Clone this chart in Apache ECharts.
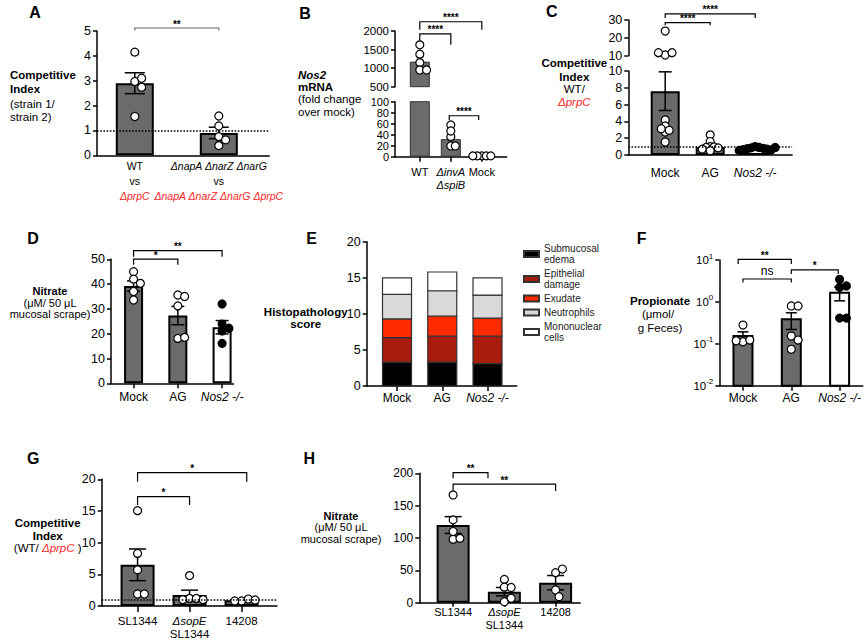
<!DOCTYPE html>
<html><head><meta charset="utf-8">
<script src="https://cdn.jsdelivr.net/npm/echarts@6/dist/echarts.min.js"></script>
<style>html,body{margin:0;padding:0;background:#fff}#c{width:867px;height:642px}</style>
</head><body><div id="c"></div>
<script>
// ================= DATA =================
// Panel A
const catA = [['WT', 'vs', 'ΔprpC'], ['ΔnapA ΔnarZ ΔnarG', 'vs', 'ΔnapA ΔnarZ ΔnarG ΔprpC']];
const meanA = [2.9, 0.9];
const semA = [0.42, 0.23];
const ptsA = [[4.15, 2.97, 3.1, 2.74, 1.56], [1.58, 1.18, 0.75, 0.62, 0.39]];
const sigA = [[0, 1, 5.12, 5.02, '**']];
// Panel B
const catB = [['WT'], ['ΔinvA', 'ΔspiB'], ['Mock']];
const meanB = [1175, 32, 1.5];
const ptsB = [[1627, 1376, 1149, 951, 951], [57.6, 36.4, 46.7, 19.5, 19.5], [1.5, 1.5, 1.5, 1.5, 1.5]];
const sigBUpper = [[0, 2, 2249, 2032, '****'], [0, 1, 1924, 1627, '****']];
const sigBLower = [[0.95, 1.9, 74.5, 66.7, '****']];
// Panel C
const catC = ['Mock', 'AG', 'Nos2 -/-'];
const meanC = [7.6, 0.95, 0.75];
const semC = [2.3, 0.22, 0.05];
const ptsC = [[23.8, 10.4, 11.7, 11.7, 4.17, 3.45, 2.74, 2.94, 3.13, 1.55],
              [2.4, 1.6, 1.0, 0.95, 0.9, 0.85, 0.5, 0.7],
              [1.0, 0.9, 0.85, 0.8, 0.75, 0.7, 0.65, 0.6, 0.55, 0.9]];
const sigC = [[0, 2, 33.4, 31.1, '****'], [0, 1, 28.5, 27.0, '****']];
// Panel D
const catD = ['Mock', 'AG', 'Nos2 -/-'];
const meanD = [39.2, 27.3, 22.6];
const semD = [2.1, 3.7, 2.7];
const ptsD = [[45.0, 42.0, 40.3, 37.0, 33.6], [35.6, 35.0, 31.2, 18.1, 18.5], [32.0, 23.9, 22.2, 21.1, 16.1]];
const sigD = [[0, 2, 53.5, 51.0, '**'], [0, 1, 50.1, 47.8, '*']];
// Panel E
const catE = ['Mock', 'AG', 'Nos2 -/-'];
const histoNames = ['Submucosal edema', 'Epithelial damage', 'Exudate', 'Neutrophils', 'Mononuclear cells'];
const histoE = [[3.3, 3.3, 3.1], [3.4, 3.6, 3.8], [2.6, 2.8, 2.5], [3.4, 3.5, 3.2], [2.3, 2.6, 2.4]];
// Panel F
const catF = ['Mock', 'AG', 'Nos2 -/-'];
const meanF = [0.153, 0.385, 1.66];
const semF = [0.04, 0.165, 0.6];
const ptsF = [[0.28, 0.112, 0.123, 0.118], [0.8, 0.8, 0.153, 0.123, 0.074], [3.46, 2.23, 2.4, 0.41, 0.41]];
const sigF = [[-0.1, 1, 10.4, 8.04, '**'], [0, 1, 3.52, 2.9, 'ns'], [1, 1.97, 5.8, 4.66, '*']];
// Panel G
const catG = [['SL1344'], ['ΔsopE', 'SL1344'], ['14208']];
const meanG = [6.5, 1.75, 0.9];
const semG = [2.5, 0.75, 0.07];
const ptsG = [[15.05, 8.3, 5.7, 1.9, 1.9], [4.8, 1.2, 1.2, 1.0, 1.0], [0.8, 1.1, 0.8, 0.95]];
const sigG = [[0, 2.1, 21.05, 19.6, '*'], [0, 1, 17.27, 15.95, '*']];
// Panel H
const catH = [['SL1344'], ['ΔsopE', 'SL1344'], ['14208']];
const meanH = [120, 17, 31];
const semH = [13, 6.5, 11];
const ptsH = [[166.5, 128, 98, 99.5, 110], [36, 24, 23.5, 1.5, 6.8], [46.4, 52, 19.6, 9.3]];
const sigH = [[0, 0.68, 200.9, 192.3, '**'], [0, 2, 183.2, 172.5, '**']];

// ================= STYLE / BUILD =================
const FF = '"Liberation Sans", Arial, Helvetica, sans-serif';
const RED = '#ff1f1f';
const GRAY = '#6b6b6b';
const SZ = 8;
const histoColors = ['#000000', '#a91b0d', '#ff2a00', '#d9d9d9', '#ffffff'];

const grids = [], xAxes = [], yAxes = [], series = [], graphic = [];
const scatterDefs = [];

function richFor(fs, lh) {
  return {
    n: {fontSize: fs, lineHeight: lh, fontFamily: FF, color: '#000'},
    i: {fontSize: fs, lineHeight: lh, fontFamily: FF, color: '#000', fontStyle: 'italic'},
    r: {fontSize: fs, lineHeight: lh, fontFamily: FF, color: RED, fontStyle: 'italic'}
  };
}
function fmtLine(s) {
  if (/prpC/.test(s)) return '{r|' + s + '}';
  if (/^Δ|^Nos2/.test(s)) return '{i|' + s + '}';
  return '{n|' + s + '}';
}

function yAxisBase(gi, p) {
  const ya = {
    gridIndex: gi, type: p.yType || 'value', min: p.yMin, max: p.yMax,
    axisLine: {show: true, onZero: false, lineStyle: {color: '#000', width: 1.5}},
    axisTick: {show: true, length: 4, lineStyle: {color: '#000', width: 1.5}},
    minorTick: {show: false},
    axisLabel: {color: '#000', fontSize: p.yFont || 12, fontFamily: FF, margin: 6, hideOverlap: false,
      showMinLabel: true, showMaxLabel: true, lineHeight: p.yLH || 12,
      formatter: p.yFmt || (v => String(v))},
    splitLine: {show: false}
  };
  if (p.yInt != null) ya.interval = p.yInt;
  if (p.yType === 'log') ya.logBase = 10;
  if (p.yRich) ya.axisLabel.rich = p.yRich;
  return ya;
}

function makePanel(p) {
  const gi = grids.push({left: p.left, top: p.top, width: p.width, height: p.height,
    containLabel: false, outerBoundsMode: 'none'}) - 1;
  const cats = p.cats || [];
  const idx = cats.map((_, i) => i);
  const xi = xAxes.push({
    gridIndex: gi, type: 'value', min: p.xMin, max: p.xMax, show: p.showX !== false,
    axisLine: {show: true, onZero: false, lineStyle: {color: '#000', width: 1.5}},
    axisTick: {show: !!p.xTick, customValues: idx, length: p.xTick || 5, lineStyle: {color: '#000', width: 1.5}},
    axisLabel: {show: cats.length > 0, customValues: idx, margin: p.xMargin, hideOverlap: false,
      showMinLabel: true, showMaxLabel: true,
      formatter: v => { const c = cats[Math.round(v)]; if (c == null) return ''; return (Array.isArray(c) ? c : [c]).map(fmtLine).join('\n'); },
      rich: richFor(p.xFont || 12, p.xLH || 14)},
    splitLine: {show: false}
  }) - 1;
  const ya = yAxisBase(gi, p);
  let yi;
  if (p.ySplit && p.yInt != null) {
    // dense tick labels: alternate labels between two coincident axes so none is dropped
    const tv = [];
    for (let v = p.yMin; v <= p.yMax + 1e-9; v += p.yInt) tv.push(v);
    ya.axisTick.customValues = tv;
    ya.axisLabel.customValues = tv.filter((_, k) => k % 2 === 0);
    yi = yAxes.push(ya) - 1;
    const yb = yAxisBase(gi, p);
    yb.position = 'left';
    yb.offset = 0;
    yb.axisLine = {show: false, onZero: false};
    yb.axisTick = {show: false};
    yb.axisLabel.customValues = tv.filter((_, k) => k % 2 === 1);
    yAxes.push(yb);
  } else {
    yi = yAxes.push(ya) - 1;
  }
  return {gi, xi, yi};
}

function addBars(P, means, w, fills, bw, bc) {
  series.push({type: 'bar', xAxisIndex: P.xi, yAxisIndex: P.yi, barWidth: w, z: 2, clip: true, silent: true,
    data: means.map((m, i) => ({value: [i, m], itemStyle: {color: (fills && fills[i]) || GRAY}})),
    itemStyle: {borderColor: bc || '#000', borderWidth: bw == null ? 2 : bw}});
}
function addLogBars(P, means, w, fills, floor) {
  series.push({type: 'custom', xAxisIndex: P.xi, yAxisIndex: P.yi, z: 2, silent: true,
    data: means.map((m, i) => [i, m]), encode: {x: 0, y: 1},
    renderItem(params, api) {
      const i = api.value(0), v = api.value(1);
      const top = api.coord([i, v]), base = api.coord([i, floor]);
      return {type: 'rect', shape: {x: top[0] - w / 2, y: top[1], width: w, height: base[1] - top[1]},
        style: {fill: fills[params.dataIndex] || GRAY, stroke: '#000', lineWidth: 2}};
    }});
}
function addErr(P, means, sems, cap) {
  series.push({type: 'custom', xAxisIndex: P.xi, yAxisIndex: P.yi, z: 3, silent: true,
    data: means.map((m, i) => [i, m - sems[i], m + sems[i]]), encode: {x: 0, y: [1, 2]},
    renderItem(params, api) {
      const x = api.value(0);
      const hi = api.coord([x, api.value(2)]), lo = api.coord([x, api.value(1)]);
      const st = {stroke: '#000', lineWidth: 1.5};
      return {type: 'group', children: [
        {type: 'line', shape: {x1: hi[0], y1: hi[1], x2: lo[0], y2: lo[1]}, style: st},
        {type: 'line', shape: {x1: hi[0] - cap / 2, y1: hi[1], x2: hi[0] + cap / 2, y2: hi[1]}, style: st},
        {type: 'line', shape: {x1: lo[0] - cap / 2, y1: lo[1], x2: lo[0] + cap / 2, y2: lo[1]}, style: st}
      ]};
    }});
}
function addBrackets(P, list, color) {
  series.push({type: 'custom', xAxisIndex: P.xi, yAxisIndex: P.yi, z: 4, silent: true, clip: false,
    data: list.map(b => [b[0], b[2], b[1], b[3]]), encode: {x: 0, y: 1},
    renderItem(params, api) {
      const b = list[params.dataIndex];
      const p1 = api.coord([b[0], b[2]]), p2 = api.coord([b[1], b[2]]), t = api.coord([b[0], b[3]]);
      const isNs = b[4] === 'ns';
      return {type: 'group', children: [
        {type: 'polyline', shape: {points: [[p1[0], t[1]], [p1[0], p1[1]], [p2[0], p2[1]], [p2[0], t[1]]]},
          style: {stroke: color || '#000', lineWidth: 1.2, fill: 'none'}},
        {type: 'text', x: (p1[0] + p2[0]) / 2, y: p1[1] - (isNs ? 8 : 4),
          style: {text: b[4], font: (isNs ? '12px ' : 'bold 10px ') + FF, fill: '#000', align: 'center', verticalAlign: 'middle'}}
      ]};
    }});
}
function addPts(P, groups, fills, filter, refLine, dodge) {
  const data = [];
  groups.forEach((vals, g) => vals.forEach(v => {
    if (!filter || filter(v)) data.push({value: [g, v], itemStyle: {color: fills[g]}});
  }));
  const s = {id: 'pts' + scatterDefs.length, type: 'scatter', xAxisIndex: P.xi, yAxisIndex: P.yi,
    symbol: 'circle', symbolSize: SZ, z: 5, silent: true, clip: false, data,
    itemStyle: {borderColor: '#000', borderWidth: 1.2, opacity: 1}};
  if (refLine != null) s.markLine = {silent: true, symbol: 'none', label: {show: false}, animation: false, z: 6,
    lineStyle: {color: '#000', type: 'dotted', width: 1.6}, emphasis: {disabled: true}, data: [{yAxis: refLine}]};
  series.push(s); scatterDefs.push({s, dodge: dodge || SZ * 0.85});
}
function txt(x, y, text, font, extra) {
  graphic.push({type: 'text', x, y, z: 10, silent: true,
    style: Object.assign({text, font: font || ('11.5px ' + FF), fill: '#000', align: 'center', verticalAlign: 'middle'}, extra || {})});
}

const W = '#ffffff', K = '#000000';

// ---- Panel A ----
const PA = makePanel({left: 97, top: 31, width: 172.2, height: 124.3, xMin: -0.45, xMax: 1.6, cats: catA,
  xTick: 0, xMargin: 3, xFont: 10.5, xLH: 15, yMin: 0, yMax: 5, yInt: 1, yFont: 12.5});
addBars(PA, meanA, 38);
addErr(PA, meanA, semA, 20);
addPts(PA, ptsA, [W, W], null, 1);
addBrackets(PA, sigA, '#666');

// ---- Panel B ----
const PBu = makePanel({left: 395, top: 31, width: 111.6, height: 55.7, xMin: -0.8, xMax: 2.8, showX: false,
  yMin: 500, yMax: 2000, yInt: 500, yFont: 11.5, yLH: 9, ySplit: true});
const PBl = makePanel({left: 395, top: 101.7, width: 111.6, height: 55, xMin: -0.8, xMax: 2.8, cats: catB,
  xTick: 5, xMargin: 9, xFont: 11, xLH: 13, yMin: 0, yMax: 100, yInt: 20, yFont: 11, yLH: 9, ySplit: true});
addBars(PBu, meanB, 20, null, 1, '#333');
addBars(PBl, meanB, 20, null, 1, '#333');
addPts(PBu, ptsB, [W, W, W], v => v >= 500);
addPts(PBl, ptsB, [W, W, W], v => v <= 100, null, 4.5);
addBrackets(PBu, sigBUpper);
addBrackets(PBl, sigBLower);

// ---- Panel C ----
const PCu = makePanel({left: 628.3, top: 20, width: 163.8, height: 35.7, xMin: -0.82, xMax: 2.82, showX: false,
  yMin: 10, yMax: 30, yInt: 10, yFont: 12.5, yLH: 10});
const PCl = makePanel({left: 628.3, top: 71, width: 163.8, height: 84, xMin: -0.82, xMax: 2.82, cats: catC,
  xTick: 0, xMargin: 11, xFont: 12, xLH: 14, yMin: 0, yMax: 10, yInt: 2, yFont: 12.5});
addBars(PCl, meanC, 29, [GRAY, GRAY, W]);
addErr(PCl, meanC, semC, 13);
addPts(PCu, ptsC, [W, W, K], v => v > 10);
addPts(PCl, ptsC, [W, W, K], v => v <= 10, 1, 4);
addBrackets(PCu, sigC);

// ---- Panel D ----
const PD = makePanel({left: 111, top: 259.3, width: 122.6, height: 124, xMin: -0.51, xMax: 2.26, cats: catD,
  xTick: 5, xMargin: 7, xFont: 12, xLH: 14, yMin: 0, yMax: 50, yInt: 10, yFont: 12.5});
addBars(PD, meanD, 19, [GRAY, GRAY, W]);
addErr(PD, meanD, semD, 13);
addPts(PD, ptsD, [W, W, K]);
addBrackets(PD, sigD);

// ---- Panel E ----
const PE = makePanel({left: 366.7, top: 241.7, width: 150, height: 144.3, xMin: -0.67, xMax: 2.645, cats: catE,
  xTick: 5, xMargin: 5, xFont: 12, xLH: 14, yMin: 0, yMax: 20, yInt: 5, yFont: 12.5});
histoNames.forEach((name, k) => {
  const data = catE.map((_, i) => {
    let base = 0; for (let j = 0; j < k; j++) base += histoE[j][i];
    return [i, base, base + histoE[k][i]];
  });
  series.push({type: 'custom', name, xAxisIndex: PE.xi, yAxisIndex: PE.yi, z: 2, silent: true, data,
    encode: {x: 0, y: [1, 2]},
    itemStyle: {color: histoColors[k], borderColor: '#333', borderWidth: 1.2},
    renderItem(params, api) {
      const x = api.value(0);
      const a = api.coord([x, api.value(2)]), b = api.coord([x, api.value(1)]);
      return {type: 'rect', shape: {x: a[0] - 14.5, y: a[1], width: 29, height: b[1] - a[1]},
        style: {fill: histoColors[k], stroke: '#333', lineWidth: 1.2}};
    }});
});

// ---- Panel F ----
const PF = makePanel({left: 719.3, top: 260, width: 143.5, height: 125.7, xMin: -0.49, xMax: 2.48, cats: catF,
  xTick: 5, xMargin: 5, xFont: 12, xLH: 14, yType: 'log', yMin: 0.01, yMax: 10, yFont: 11.5,
  yFmt: v => '{b|10}{s|' + Math.round(Math.log10(v)) + '}',
  yRich: {b: {fontSize: 11.5, fontFamily: FF, color: '#000'}, s: {fontSize: 8, fontFamily: FF, color: '#000', padding: [0, 0, 8, 0]}}});
addLogBars(PF, meanF, 19, [GRAY, GRAY, W], 0.01);
addErr(PF, meanF, semF, 11);
addPts(PF, ptsF, [W, W, K]);
addBrackets(PF, sigF);

// ---- Panel G ----
const PG = makePanel({left: 101.7, top: 479.3, width: 175.2, height: 126.7, xMin: -0.69, xMax: 2.68, cats: catG,
  xTick: 6, xMargin: 8, xFont: 11.5, xLH: 13, yMin: 0, yMax: 20, yInt: 5, yFont: 12.5});
addBars(PG, meanG, 34);
addErr(PG, meanG, semG, 17);
addPts(PG, ptsG, [W, W, W], null, 1);
addBrackets(PG, sigG);

// ---- Panel H ----
const PH = makePanel({left: 419.3, top: 473.3, width: 160.9, height: 129.4, xMin: -0.66, xMax: 2.48, cats: catH,
  xTick: 4, xMargin: 3.5, xFont: 11, xLH: 12.5, yMin: 0, yMax: 200, yInt: 50, yFont: 12});
addBars(PH, meanH, 33);
addErr(PH, meanH, semH, 17);
addPts(PH, ptsH, [W, W, W]);
addBrackets(PH, sigH);

// ---- Panel letters & axis titles ----
const LF = 'bold 16px ' + FF, BF = 'bold 11.5px ' + FF, NF = '11.5px ' + FF, NFs = '11px ' + FF, BFs = 'bold 11px ' + FF;
[['A', 35, 12], ['B', 305, 13], ['C', 551.7, 11.7], ['D', 33, 238], ['E', 311.7, 238.3],
 ['F', 641.7, 238.3], ['G', 33.3, 458.3], ['H', 309.3, 458.3]].forEach(l => txt(l[1], l[2], l[0], LF));
// A
txt(10, 75, 'Competitive', BF, {align: 'left'});
txt(10, 89, 'Index', BF, {align: 'left'});
txt(10, 104, '(strain 1/', NF, {align: 'left'});
txt(10, 117, 'strain 2)', NF, {align: 'left'});
// B
txt(298, 75, 'Nos2', 'italic bold 11.5px ' + FF, {align: 'left'});
txt(298, 87, 'mRNA', BF, {align: 'left'});
txt(298, 99.3, '(fold change', NF, {align: 'left'});
txt(298, 111.7, 'over mock)', NF, {align: 'left'});
// C
txt(574.3, 63.3, 'Competitive', BF);
txt(574.3, 77.3, 'Index', BF);
txt(574.3, 89.3, 'WT/', NF);
txt(574.3, 102, 'ΔprpC', 'italic 11.5px ' + FF, {fill: RED});
// D
txt(50, 291, 'Nitrate', BFs);
txt(50, 302.5, '(μM/ 50 μL', NFs);
txt(50, 314, 'mucosal scrape)', NFs);
// E
txt(305.7, 311.7, 'Histopathology', BF);
txt(305.7, 324, 'score', BF);
// F
txt(660, 301, 'Propionate', BF);
txt(658, 314, '(μmol/', NF);
txt(660, 327.5, 'g Feces)', NF);
// G
txt(47.7, 523.3, 'Competitive', BF);
txt(47.7, 536, 'Index', BF);
txt(47.7, 548.3, '(WT/ {r|ΔprpC} )', NF,
  {rich: {r: {fill: RED, fontStyle: 'italic', fontSize: 11.5, fontFamily: FF}}});
// H
txt(341, 515.7, 'Nitrate', BFs);
txt(341, 527.3, '(μM/ 50 μL', NFs);
txt(341, 539, 'mucosal scrape)', NFs);

const option = {
  animation: false,
  backgroundColor: '#fff',
  textStyle: {fontFamily: FF},
  grid: grids, xAxis: xAxes, yAxis: yAxes, series, graphic,
  legend: {data: histoNames, orient: 'vertical', left: 518, top: 238, itemWidth: 15, itemHeight: 6,
    itemGap: 3, icon: 'rect', selectedMode: false,
    formatter: n => n.replace(' ', '\n'),
    textStyle: {fontSize: 10, lineHeight: 11, color: '#222', fontFamily: FF}}
};

const chart = echarts.init(document.getElementById('c'), null, {renderer: 'svg', width: 867, height: 642});
chart.setOption(option);

// ---- beeswarm dodge of points (pixel positions from library scales) ----
scatterDefs.forEach(def => {
  const s = def.s, MIND = def.dodge, STEP = def.dodge * 0.5;
  const si = series.indexOf(s);
  const byGroup = {};
  s.data.forEach((d, k) => {
    const px = chart.convertToPixel({seriesIndex: si}, d.value);
    (byGroup[d.value[0]] = byGroup[d.value[0]] || []).push({k, y: px ? px[1] : 0});
  });
  Object.keys(byGroup).forEach(g => {
    const placed = [];
    byGroup[g].forEach(e => {
      let off = 0;
      for (let t = 0; t < 60; t++) {
        const cand = t === 0 ? 0 : (t % 2 ? 1 : -1) * Math.ceil(t / 2) * STEP;
        if (placed.every(p => Math.hypot(p.x - cand, p.y - e.y) >= MIND)) { off = cand; break; }
      }
      placed.push({x: off, y: e.y});
      s.data[e.k].symbolOffset = [off, 0];
    });
  });
});
chart.setOption({series: scatterDefs.map(d => ({id: d.s.id, data: d.s.data}))});
</script>
</body></html>
